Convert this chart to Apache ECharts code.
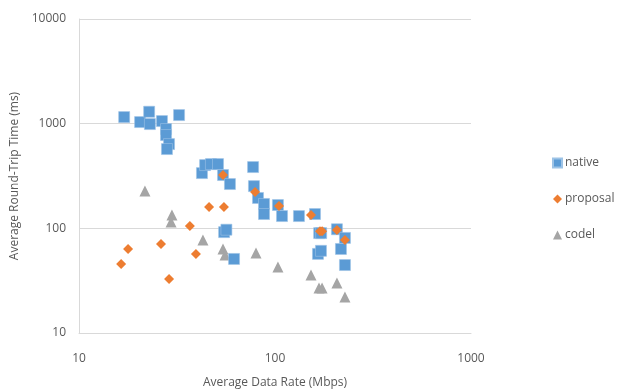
<!DOCTYPE html>
<html>
<head>
<meta charset="utf-8">
<script src="https://cdn.jsdelivr.net/npm/echarts@6/dist/echarts.min.js"></script>
<style>html,body{margin:0;padding:0;background:#fff;}#c{width:623px;height:391px;}</style>
</head>
<body>
<div id="c"></div>
<script>
// [Average Data Rate (Mbps), Average Round-Trip Time (ms)]
var nativeData = [
  [17.0,1156],[20.5,1036],[22.8,1300],[23.0,991],[26.5,1059],[27.8,888],[27.8,778],
  [28.8,638],[28.1,572],[32.4,1208],
  [42.4,337],[44.0,402],[47.1,411],[51.2,411],[54.3,323],[58.9,265],
  [55.0,92],[56.5,97],[61.8,51],
  [77.3,385],[78.1,253],[81.9,195],[87.9,171],[87.9,137],[103.5,167],[108.6,131],
  [132.5,131],[160,137],[168,90],[172,90],[165.7,57],[171.6,61],
  [207,98],[227.5,81],[217,63.5],[227.5,44.6]
];
var proposalData = [
  [16.4,45.6],[17.8,63.5],[26.2,70.8],[28.8,32.8],[36.8,105],[39.5,56.8],
  [46.1,160],[54.9,160],[54.3,323],[79.1,222],[104.8,163],[152.6,134],
  [169.7,94],[174,94],[207,96.3],[227.5,77.3]
];
var codelData = [
  [21.7,227],[29.8,134],[29.5,115],[42.9,77.3],[54.3,63.5],[55.6,55.6],
  [80,58.1],[103.5,42.7],[152.6,35.8],[167.7,26.9],[173.8,26.9],[207,30.0],[227.5,22.1]
];
var seriesNames = ['native','proposal','codel'];
var xName = 'Average Data Rate (Mbps)';
var yName = 'Average Round-Trip Time (ms)';

var font = "'Open Sans', sans-serif";
var txt = '#595959';
var plain = function (v) { return String(v); };
var chart = echarts.init(document.getElementById('c'), null, {renderer:'canvas'});
chart.setOption({
  animation: false,
  backgroundColor: '#fff',
  textStyle: {fontFamily: font},
  grid: {left: 79, right: 152, top: 19, bottom: 58, containLabel: false, outerBoundsMode: 'none'},
  legend: {
    orient: 'vertical', left: 547, top: 152, itemGap: 24,
    itemWidth: 9, itemHeight: 9,
    textStyle: {color: txt, fontSize: 12, fontFamily: font, padding: [0, 0, 0, -2]},
    data: [
      {name: seriesNames[0], icon: 'rect'},
      {name: seriesNames[1], icon: 'diamond'},
      {name: seriesNames[2], icon: 'triangle'}
    ]
  },
  xAxis: {
    type: 'log', logBase: 10, min: 10, max: 1000,
    name: xName, nameLocation: 'middle', nameGap: 44,
    nameTextStyle: {color: txt, fontSize: 12, fontFamily: font},
    axisLine: {show: true, lineStyle: {color: '#d9d9d9', width: 1}},
    axisTick: {show: false},
    splitLine: {show: false},
    minorTick: {show: false},
    axisLabel: {color: txt, fontSize: 12, margin: 20, fontFamily: font, formatter: plain}
  },
  yAxis: {
    type: 'log', logBase: 10, min: 10, max: 10000,
    name: yName, nameLocation: 'middle', nameGap: 56,
    nameTextStyle: {color: txt, fontSize: 12, fontFamily: font},
    axisLine: {show: true, lineStyle: {color: '#d9d9d9', width: 1}},
    axisTick: {show: false},
    splitLine: {show: true, lineStyle: {color: '#d9d9d9', width: 1}},
    axisLabel: {color: txt, fontSize: 12, margin: 13, fontFamily: font, formatter: plain}
  },
  series: [
    {name: seriesNames[0], type: 'scatter', symbol: 'rect', symbolSize: 11,
     itemStyle: {color: '#5B9BD5', borderColor: '#9dc3e6', borderWidth: 0.6, opacity: 1},
     data: nativeData, z: 2},
    {name: seriesNames[1], type: 'scatter', symbol: 'diamond', symbolSize: 10,
     itemStyle: {color: '#ED7D31', opacity: 1},
     data: proposalData, z: 3},
    {name: seriesNames[2], type: 'scatter', symbol: 'triangle', symbolSize: 11,
     itemStyle: {color: '#A5A5A5', opacity: 1},
     data: codelData, z: 1}
  ]
});
</script>
</body>
</html>
